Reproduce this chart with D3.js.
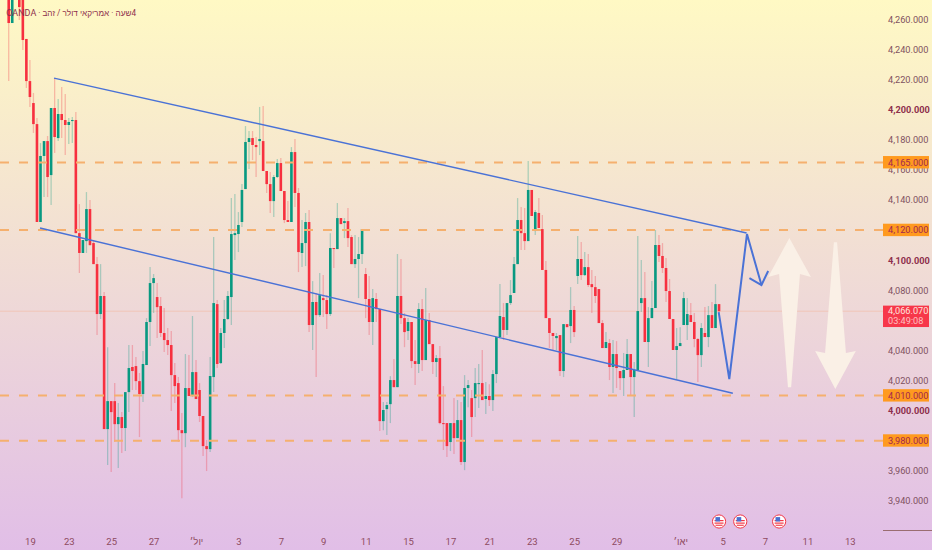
<!DOCTYPE html>
<html>
<head>
<meta charset="utf-8">
<script src="https://cdn.jsdelivr.net/npm/d3@7"></script>
<style>
  body { margin: 0; overflow: hidden; }
  text { font-family: Roboto, sans-serif; }
</style>
</head>
<body>
<div id="chart"></div>
<script>
// 4h candles, price values
const opens = [
  4276.3, 4257.7, 4299.6, 4278.3, 4275, 4247.1, 4219.1, 4204.5, 4190.5, 4125.4,
  4169.3, 4179.2, 4156.6, 4201.2, 4181.2, 4197.2, 4193.2, 4189.9, 4192.5, 4193.2,
  4118, 4104.8, 4112.7, 4134, 4111.4, 4097.4, 4064.2, 4076.2, 3987.7, 4006.3,
  4006.3, 3991, 3995.7, 3988.4, 4012.3, 4029, 4029.6, 4019.6, 4011, 4030.3,
  4058.9, 4084.8, 4075.5, 4069.5, 4051.6, 4046.9, 4043.6, 4023.6, 4018.3, 3987,
  3985, 4015, 4009.7, 4025.6, 4013.7, 3996.4, 3976.4, 3974.4, 4022.3, 4070.8,
  4031.6, 4051.6, 4060.9, 4075.5, 4116.7, 4117.4, 4125.4, 4147.3, 4178.6, 4181.2,
  4176.6, 4179.2, 4179.2, 4159.3, 4150.6, 4139.3, 4155.3, 4164.6, 4146, 4126.7,
  4125.4, 4171.9, 4144.7, 4104.8, 4111.4, 4125.4, 4056.9, 4072.2, 4063.5, 4074.8,
  4073.5, 4064.2, 4108.1, 4107.4, 4128, 4124.7, 4126, 4115.4, 4097.4, 4100.8,
  4104.1, 4090.8, 4074.2, 4058.9, 4074.2, 4067.5, 3993, 4001, 4004.3, 4020.3,
  4015.6, 4076.2, 4061.5, 4052.9, 4058.9, 4032.9, 4031, 4067.5, 4033.6, 4060.2,
  4044.2, 4032.3, 4034.9, 3991.7, 3991.7, 3979.1, 3991.7, 3981.7, 3993.7, 3965.8,
  4015, 4008.3, 4008.3, 4017.6, 4018.3, 4007.7, 4009.7, 4007, 4024.3, 4048.9,
  4062.2, 4053.6, 4071.5, 4078.2, 4097.4, 4126.7, 4118, 4112.7, 4146.7, 4119.4,
  4131.4, 4120.7, 4093.5, 4061.5, 4051.6, 4048.2, 4050.2, 4026.3, 4057.5, 4056.2,
  4066.9, 4089.5, 4100.8, 4090.1, 4095.4, 4084.1, 4082.1, 4080.8, 4058.2, 4041.6,
  4044.9, 4029, 4037.6, 4026.3, 4021.6, 4027, 4037.6, 4022.3, 4027, 4071.5,
  4074.8, 4045.6, 4061.5, 4068.2, 4110.1, 4102.8, 4094.8, 4079.5, 4060.9, 4040.3,
  4042.9, 4056.9, 4056.9, 4063.5, 4058.9, 4047.6, 4036.9, 4051.6, 4048.9, 4063.5,
  4054.9, 4070.8
];
const closes = [
  4257.7, 4276.3, 4286.3, 4268.3, 4246.4, 4219.1, 4208.5, 4190.5, 4125.4, 4169.3,
  4179.2, 4155.3, 4201.2, 4181.9, 4197.2, 4193.2, 4189.9, 4191.9, 4193.2, 4118,
  4104.8, 4113.4, 4134, 4110, 4097.4, 4064.2, 4076.2, 3987.7, 4006.3, 3999,
  3991, 3995.7, 3988.4, 4012.3, 4028.3, 4026.3, 4019.6, 4011, 4031, 4058.9,
  4084.8, 4088.1, 4068.8, 4051.6, 4046.9, 4043.6, 4023.6, 4016.3, 3987, 3985,
  4015, 4009.7, 4025.6, 4007.7, 3996.4, 3976.4, 3974.4, 4023, 4071.5, 4031,
  4051.6, 4060.9, 4076.2, 4117.4, 4118, 4123.4, 4146.7, 4178.6, 4181.2, 4176.6,
  4175.2, 4180.6, 4159.3, 4150.6, 4139.3, 4155.3, 4164.6, 4146, 4126.7, 4125.4,
  4171.9, 4144.7, 4105.4, 4111.4, 4125.4, 4056.9, 4072.2, 4063.5, 4076.8, 4073.5,
  4064.2, 4108.1, 4107.4, 4128, 4124, 4126, 4114.7, 4097.4, 4100.8, 4104.1,
  4120.7, 4074.2, 4058.9, 4074.8, 4067.5, 3993, 4000.4, 4003.7, 4020.3, 4015.6,
  4076.2, 4061.5, 4052.2, 4058.9, 4032.9, 4031, 4067.5, 4033.6, 4060.2, 4044.2,
  4032.3, 4034.9, 3991.7, 3991, 3976.4, 3991.7, 3981.7, 3993.7, 3965.8, 4015,
  4017, 3995.7, 4018.3, 4018.3, 4007, 4009.7, 4007, 4024.3, 4048.9, 4062.9,
  4053.6, 4071.5, 4076.8, 4097.4, 4126.7, 4118, 4112.7, 4146.7, 4129.4, 4132,
  4121.4, 4093.5, 4061.5, 4051.6, 4049.6, 4049.6, 4026.3, 4057.5, 4055.5, 4066.9,
  4052.2, 4100.8, 4090.1, 4095.4, 4083.5, 4082.1, 4076.2, 4058.2, 4041.6, 4045.6,
  4029, 4037.6, 4028.3, 4021.6, 4027, 4037.6, 4022.3, 4027, 4066.2, 4074.8,
  4045.6, 4061.5, 4068.2, 4110.1, 4102.8, 4094.8, 4079.5, 4060.9, 4040.3, 4042.9,
  4044.9, 4074.8, 4064.2, 4058.9, 4047.6, 4036.9, 4054.9, 4048.9, 4063.5, 4054.9,
  4070.8, 4066.07
];
const highs = [
  4279.7, 4279.7, 4302, 4281, 4276.3, 4247.1, 4233.1, 4211.2, 4194.5, 4177.9,
  4179.2, 4182.6, 4201.2, 4221.1, 4207.2, 4215.1, 4210.5, 4194.5, 4195.2, 4198.5,
  4137.3, 4113.4, 4145.3, 4140, 4113.4, 4102.1, 4097.4, 4078.8, 4042.2, 4006.3,
  4018.3, 4005, 3999, 4012.3, 4043.6, 4043.6, 4035.6, 4025, 4039.6, 4061.5,
  4095.4, 4090.8, 4084.8, 4075.5, 4068.2, 4054.9, 4052.9, 4031.6, 4022.3, 3998.4,
  4037.6, 4036.9, 4062.9, 4033.6, 4018.3, 3996.4, 3980.4, 4035.6, 4115.4, 4073.5,
  4054.9, 4073.5, 4079.5, 4141.3, 4144, 4132, 4150.6, 4189.2, 4185.9, 4185.9,
  4181.9, 4201.9, 4202.5, 4159.3, 4158.6, 4156.6, 4167.3, 4167.9, 4146, 4139.3,
  4175.2, 4180.6, 4148, 4126.7, 4131.4, 4133.4, 4086.1, 4078.2, 4091.5, 4090.1,
  4076.8, 4118, 4108.1, 4138, 4128, 4128, 4134.7, 4116.7, 4116.7, 4115.4,
  4120.7, 4094.8, 4089.5, 4080.8, 4078.2, 4067.5, 4005.7, 4005.7, 4022.9, 4034.3,
  4104.1, 4100.8, 4064.9, 4061.5, 4058.9, 4046.9, 4071.5, 4074.2, 4081.5, 4064.9,
  4044.2, 4036.9, 4042.9, 4016.3, 3991.7, 3991.7, 4008.3, 4007, 4005.7, 4023.6,
  4020.3, 4013.7, 4028.3, 4031, 4040.3, 4019, 4017.6, 4027, 4048.9, 4084.1,
  4071.5, 4071.5, 4086.8, 4102.1, 4141.3, 4135.3, 4134.7, 4165.9, 4146.7, 4133.4,
  4141.3, 4130, 4099.4, 4061.5, 4051.6, 4051.6, 4050.2, 4057.5, 4057.5, 4082.1,
  4069.5, 4116.1, 4112.1, 4105.4, 4104.1, 4093.5, 4089.5, 4080.8, 4060.2, 4052.2,
  4047.6, 4046.9, 4046.2, 4026.3, 4038.3, 4047.6, 4037.6, 4032.3, 4116.1, 4100.1,
  4092.1, 4068.8, 4086.1, 4120.1, 4116.7, 4111.4, 4101.4, 4087.5, 4060.9, 4054.9,
  4055.5, 4078.8, 4074.8, 4071.5, 4064.9, 4048.2, 4058.2, 4068.8, 4069.5, 4072.2,
  4084.1, 4070.8
];
const lows = [
  4219.1, 4257.7, 4280, 4259.7, 4239.8, 4214.5, 4201.9, 4184.6, 4125.4, 4125.4,
  4142, 4142, 4136.7, 4171.3, 4179.2, 4181.2, 4169.9, 4177.2, 4177.9, 4118,
  4091.5, 4104.8, 4104.8, 4110, 4097.4, 4050.2, 4060.9, 3987.7, 3963.8, 3959.1,
  3979.1, 3961.8, 3971.8, 3973.1, 3999, 4013.7, 4013.7, 3982.4, 4005.7, 4030.3,
  4042.9, 4064.9, 4048.2, 4048.9, 4038.9, 4036.9, 3999.7, 4005, 3979.1, 3941.8,
  3975.7, 4009.7, 4009, 4007.7, 3992.4, 3969.8, 3959.8, 3972.4, 4012.3, 4028.3,
  4031, 4041.6, 4060.2, 4056.9, 4100.1, 4105.4, 4122, 4147.3, 4160.6, 4166.6,
  4155.3, 4169.9, 4159.3, 4144.7, 4131.4, 4128.7, 4154.6, 4146, 4124.7, 4125.4,
  4125.4, 4135.3, 4092.1, 4095.4, 4096.1, 4052.2, 4040.3, 4022.3, 4062.2, 4062.2,
  4054.2, 4062.9, 4094.8, 4107.4, 4124, 4114.7, 4108.7, 4097.4, 4094.8, 4074.8,
  4097.4, 4061.5, 4050.2, 4043.6, 4058.9, 3986.4, 3987, 3983.7, 3991.7, 4015.6,
  4015.6, 4057.5, 4042.2, 4046.9, 4028.3, 4017, 4025, 4026.3, 4033.6, 4044.2,
  4024.3, 4022.3, 3991, 3973.8, 3969.1, 3973.1, 3971.1, 3981.7, 3963.8, 3960.4,
  4002.3, 3982.4, 3995.7, 4001.7, 4007, 3997.7, 4003, 3999.7, 4018.3, 4048.9,
  4046.9, 4050.2, 4070.2, 4078.2, 4097.4, 4106.8, 4106.8, 4112.7, 4129.4, 4116.7,
  4121.4, 4093.5, 4061.5, 4041.6, 4040.3, 4040.3, 4023, 4022.3, 4055.5, 4044.9,
  4048.9, 4084.1, 4086.8, 4089.5, 4082.1, 4064.9, 4071.5, 4058.2, 4041.6, 4041.6,
  4020.3, 4011.7, 4015, 4013.7, 4009.7, 4027, 4009.7, 3995.7, 4027, 4065.5,
  4045.6, 4029, 4061.5, 4068.2, 4098.8, 4091.5, 4072.2, 4060.9, 4040.3, 4021,
  4042.9, 4056.9, 4046.9, 4058.9, 4042.2, 4019, 4029, 4048.9, 4042.2, 4054.9,
  4054.9, 4065.5
];

// axis labels (4120, 4060 and 3980 sit under the price chips)
const priceTicks = [4260, 4240, 4220, 4200, 4180, 4160, 4140, 4100, 4080, 4040, 4020, 4000, 3960, 3940];
const boldPrices = [4200, 4100, 4000];
const timeTickBars = [6, 17, 29, 41, 53, 65, 77, 89, 101, 113, 125, 136, 148, 160, 172, 190, 202, 214, 226, 238];
const timeTickLabels = ["19", "23", "25", "27", "יול׳", "3", "7", "9", "11", "15", "17", "21", "23", "25", "29", "יאו׳", "5", "7", "11", "13"];

// levels and drawings, as [bar, price]
const levels = [4165, 4120, 4010, 3980];
const lastPrice = 4066.07;
const countdown = "03:49:08";
const upperChannel = [[12.82, 4221.1], [208.8, 4118.1]];
const lowerChannel = [[8.86, 4121.4], [204.9, 4011.5]];
const zigzag = [[200.9, 4065.5], [203.9, 4021], [208.9, 4117.4], [213, 4083.5]];
const zigzagHead = [[209.6, 4088.1], [213, 4083.5], [214.9, 4092.8]];
const upArrow = [[220.9, 4114.7], [214.9, 4088.8], [218, 4090.8], [220.5, 4015.6], [221.4, 4015.6], [223.9, 4090.8], [227, 4088.8]];
const downArrow = [[233.5, 4112], [231, 4038.3], [228.2, 4039.6], [233.9, 4014.3], [239.7, 4039.6], [236.9, 4038.3], [234.4, 4112]];
const eventBars = [201, 207, 218];

const titleHebrew = "4שעה · אמריקאי דולר / זהב · ";
const titleBroker = "OANDA";

const width = 932;
const height = 550;
const axisLeft = 883;

const candles = opens.map((o, i) => ({i, open: o, close: closes[i], high: highs[i], low: lows[i]}));

const xScale = d3.scaleLinear().domain([0, 238]).range([8.7, 849.8]);
const yScale = d3.scaleLinear().domain([3940, 4260]).range([500.84, 19.56]);

const svg = d3.select("#chart").append("svg").attr("width", width).attr("height", height).style("display", "block");

const grad = svg.append("defs").append("linearGradient")
  .attr("id", "bg").attr("x1", 0).attr("y1", 0).attr("x2", 0).attr("y2", 1);
grad.append("stop").attr("offset", "0%").attr("stop-color", "#fff9c4");
grad.append("stop").attr("offset", "100%").attr("stop-color", "#e1bee7");

svg.append("rect").attr("width", width).attr("height", height).attr("fill", "url(#bg)");

// last price line
svg.append("line")
  .attr("x1", 0).attr("x2", axisLeft)
  .attr("y1", yScale(lastPrice)).attr("y2", yScale(lastPrice))
  .attr("stroke", "#f5a27a").attr("stroke-opacity", 0.35).attr("stroke-width", 1);

// candle wicks
const up = (d) => d.close >= d.open;
svg.selectAll(".wick").data(candles).join("line")
  .attr("class", "wick")
  .attr("x1", (d) => xScale(d.i)).attr("x2", (d) => xScale(d.i))
  .attr("y1", (d) => yScale(d.high)).attr("y2", (d) => yScale(d.low))
  .attr("stroke", (d) => (up(d) ? "#089981" : "#f23645"))
  .attr("stroke-opacity", 0.3)
  .attr("stroke-width", 1.3);

// candle bodies
svg.selectAll(".body").data(candles).join("rect")
  .attr("class", "body")
  .attr("x", (d) => xScale(d.i) - 1.3)
  .attr("width", 2.6)
  .attr("y", (d) => yScale(Math.max(d.open, d.close)))
  .attr("height", (d) => Math.max(1, Math.abs(yScale(d.open) - yScale(d.close))))
  .attr("fill", (d) => (up(d) ? "#089981" : "#f7303f"));

// dashed levels
svg.selectAll(".level").data(levels).join("line")
  .attr("class", "level")
  .attr("x1", 0).attr("x2", axisLeft)
  .attr("y1", (d) => yScale(d)).attr("y2", (d) => yScale(d))
  .attr("stroke", "#f5b06e")
  .attr("stroke-width", 2)
  .attr("stroke-dasharray", "9 10");

// white arrows
const line = d3.line().x((d) => xScale(d[0])).y((d) => yScale(d[1]));
[upArrow, downArrow].forEach((a) => {
  svg.append("path").attr("d", line(a) + "Z").attr("fill", "#faf0e6");
});

// channel and projected path
[upperChannel, lowerChannel].forEach((c) => {
  svg.append("path").attr("d", line(c)).attr("fill", "none")
    .attr("stroke", "#4a72d6").attr("stroke-width", 1.4);
});
[zigzag, zigzagHead].forEach((c) => {
  svg.append("path").attr("d", line(c)).attr("fill", "none")
    .attr("stroke", "#4a72d6").attr("stroke-width", 2).attr("stroke-linejoin", "miter");
});

// price axis
const yAxisGroup = svg.append("g")
  .attr("transform", "translate(884,0)")
  .call(d3.axisRight(yScale).tickValues(priceTicks).tickSize(0).tickPadding(4).tickFormat(d3.format(",.3f")));
yAxisGroup.select(".domain").remove();
yAxisGroup.selectAll("text")
  .attr("font-size", 9.2)
  .style("font-family", "Roboto, sans-serif")
  .attr("font-weight", (d) => (boldPrices.includes(d) ? 700 : 400))
  .attr("fill", (d) => (boldPrices.includes(d) ? "#8e2f4c" : "#80505f"));

svg.append("line").attr("x1", axisLeft).attr("x2", width).attr("y1", 530.5).attr("y2", 530.5)
  .attr("stroke", "#9a6d70").attr("stroke-width", 1);

// time axis
const xAxisGroup = svg.append("g")
  .attr("transform", "translate(0,536)")
  .call(d3.axisBottom(xScale).tickValues(timeTickBars).tickSize(0).tickPadding(2).tickFormat((d, i) => timeTickLabels[i]));
xAxisGroup.select(".domain").remove();
xAxisGroup.selectAll("text")
  .attr("font-size", 9.5)
  .style("font-family", "Roboto, sans-serif")
  .attr("fill", "#8e4a60");

// price chips
const chips = svg.selectAll(".chip").data(levels).join("g").attr("class", "chip");
chips.append("rect")
  .attr("x", axisLeft).attr("width", 46).attr("height", 12.4)
  .attr("y", (d) => yScale(d) - 6.4)
  .attr("fill", "#ff9a1f");
chips.append("text")
  .attr("x", 888).attr("y", (d) => yScale(d) + 3.2)
  .attr("font-size", 9.2).attr("fill", "#a3274f")
  .text(d3.format(",.3f"));

svg.append("rect").attr("x", axisLeft).attr("y", yScale(lastPrice) - 5.6).attr("width", 46).attr("height", 21.4).attr("fill", "#f7374a");
svg.append("text").attr("x", 888).attr("y", yScale(lastPrice) + 2.8).attr("font-size", 9.2).attr("fill", "#ffe3dc").text(d3.format(",.3f")(lastPrice));
svg.append("text").attr("x", 888).attr("y", yScale(lastPrice) + 12.6).attr("font-size", 9.2).attr("fill", "#ffc0c0").text(countdown);

// event flags
const flags = svg.selectAll(".flag").data(eventBars).join("g")
  .attr("class", "flag")
  .attr("transform", (d) => `translate(${xScale(d)},521.5)`);
flags.append("circle").attr("r", 6.6).attr("fill", "#fff").attr("stroke", "#f23645").attr("stroke-width", 1);
flags.append("rect").attr("x", -4.5).attr("y", -1.5).attr("width", 9).attr("height", 1.2).attr("fill", "#f23645");
flags.append("rect").attr("x", -4.5).attr("y", 1).attr("width", 9).attr("height", 1.2).attr("fill", "#f23645");
flags.append("rect").attr("x", -3.5).attr("y", 3.2).attr("width", 7).attr("height", 1.1).attr("fill", "#f23645");
flags.append("rect").attr("x", -3.6).attr("y", -4.4).attr("width", 4.6).attr("height", 4.4).attr("fill", "#4a6fd0");

// title
const titleText = svg.append("text")
  .attr("x", 136).attr("y", 16)
  .attr("direction", "rtl")
  .attr("text-anchor", "start")
  .attr("font-size", 8.2)
  .attr("fill", "#8e2f4c")
  .attr("xml:space", "preserve");
titleText.append("tspan").text(titleHebrew);
titleText.append("tspan").attr("font-size", 9).text(titleBroker);
</script>
</body>
</html>
